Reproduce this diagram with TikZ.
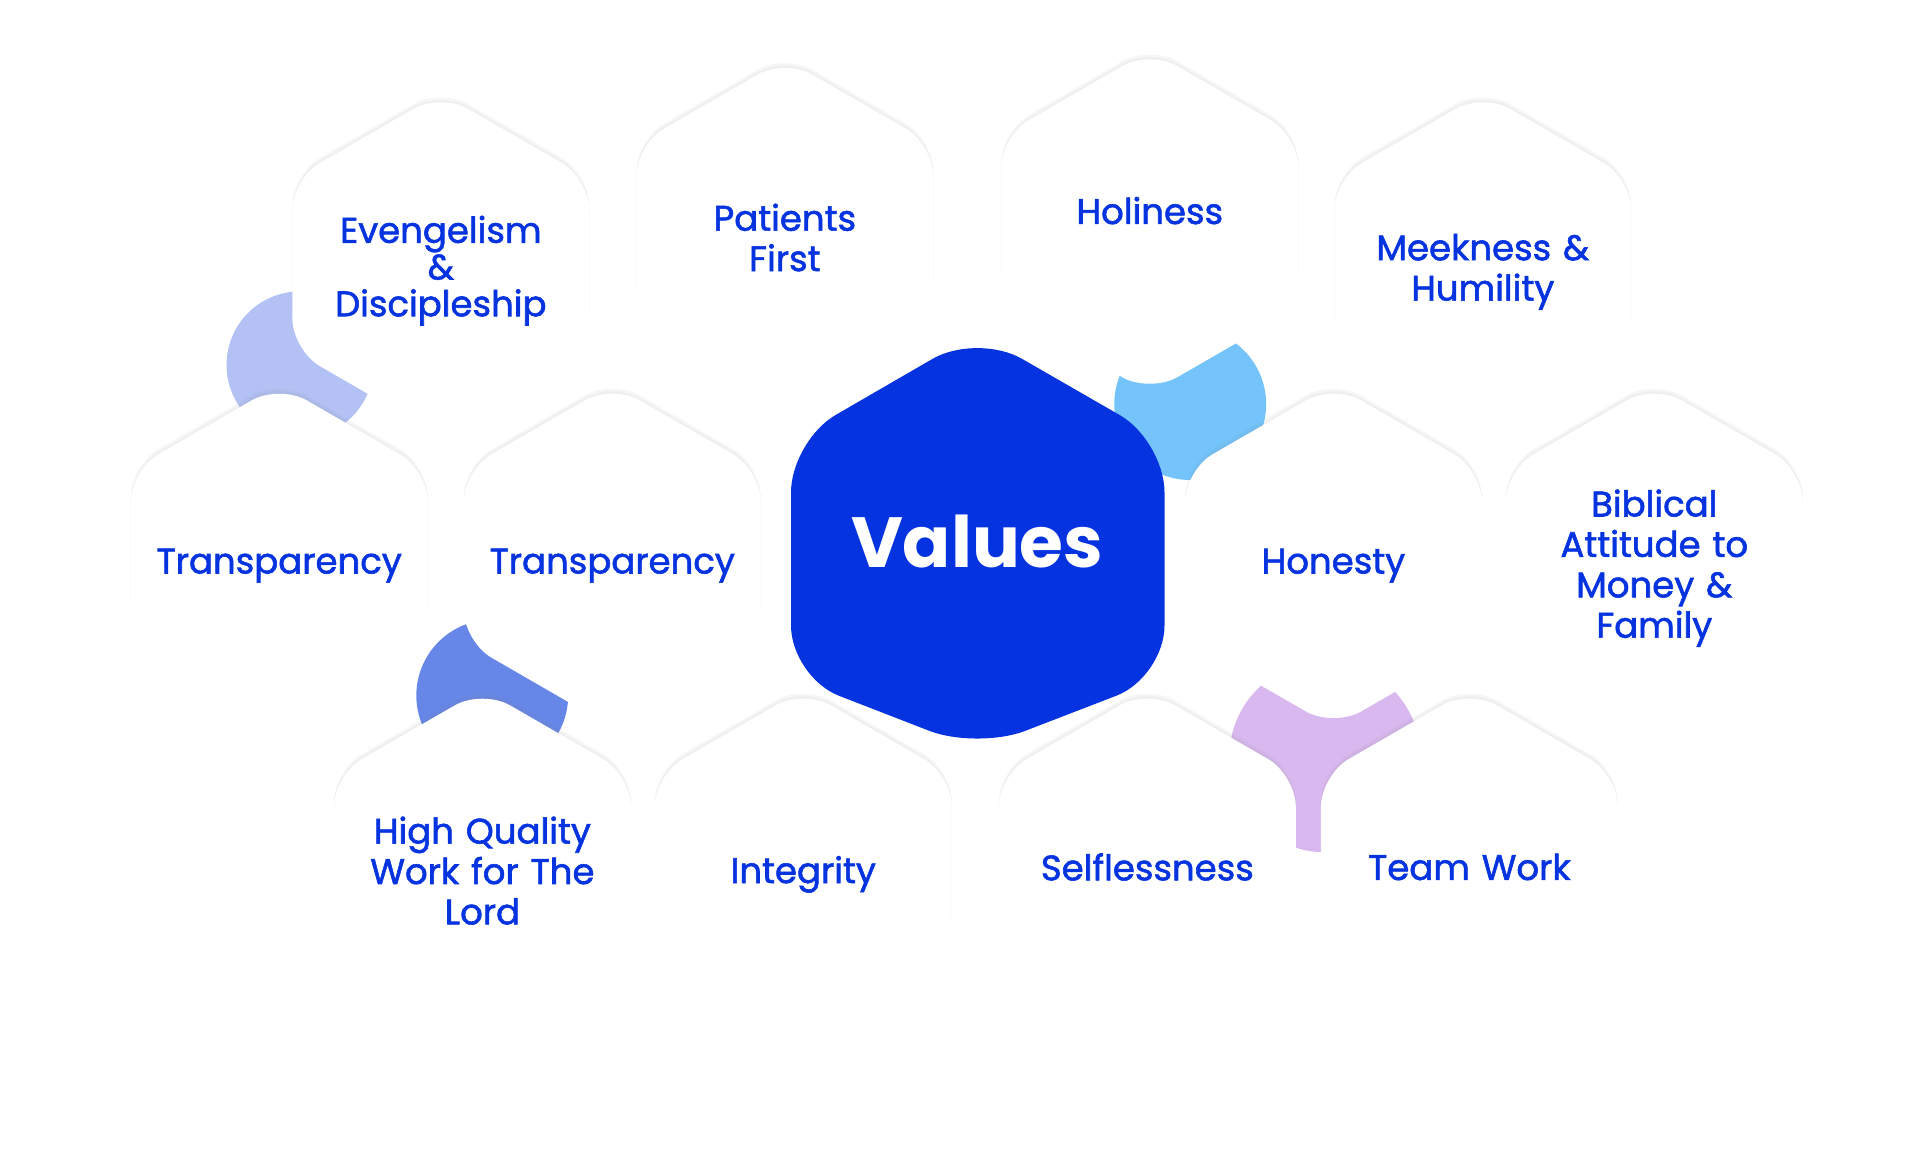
\documentclass[tikz,border=0pt]{standalone}
\usepackage{fontspec}
\setmainfont{Poppins}[BoldFont=Poppins,BoldFeatures={FakeBold=1.6}]
\newfontfamily\popbold{Poppins}
\usetikzlibrary{shapes.geometric,shadows}
\definecolor{vblue}{HTML}{0533E0}
\begin{document}
\begin{tikzpicture}[x=1pt,y=-1pt,
  hex/.style={regular polygon,regular polygon sides=6,shape border rotate=30,minimum size=280,inner sep=0,fill=white,rounded corners=26,drop shadow={opacity=0.07,shadow xshift=0,shadow yshift=-4},drop shadow={opacity=0.05,shadow xshift=0,shadow yshift=-2}},
  lbl/.style={align=center,text=vblue,font=\fontsize{29}{33}\selectfont\bfseries,text width=220}]
\useasboundingbox (0,0) rectangle (1568,960);
\fill[white] (0,0) rectangle (1568,960);
% decorative circles
\fill[color={rgb,255:red,179;green,193;blue,245}] (245,298) circle (60);
\fill[color={rgb,255:red,116;green,196;blue,251}] (972,330) circle (62);
\fill[color={rgb,255:red,103;green,135;blue,232}] (402,568) circle (62);
\fill[color={rgb,255:red,217;green,184;blue,239}] (1082,618) circle (78);
% central
\fill[vblue,rounded corners=42] (798,272) -- (951,360) -- (951,553) -- (798,612) -- (646,553) -- (646,360) -- cycle;
\node[text=white,font=\popbold\fontsize{58}{64}\selectfont\bfseries] (ct) at (798,442) {Values};
% hexes
\node[hex] (h1) at (360,216) {};
\node[hex] (h2) at (641,188) {};
\node[hex] (h3) at (939,181) {};
\node[hex] (h4) at (1211,216) {};
\node[hex] (h5) at (228,454) {};
\node[hex] (h6) at (500,454) {};
\node[hex] (h7) at (1089,454) {};
\node[hex] (h8) at (1351,454) {};
\node[hex] (h9) at (394,703) {};
\node[hex] (h10) at (656,703) {};
\node[hex] (h11) at (937,703) {};
\node[hex] (h12) at (1200,703) {};
\node[lbl] (t1) at (360,221) {Evengelism\\[-3pt]\&\\[-3pt]Discipleship};
\node[lbl] (t2) at (641,194) {Patients\\First};
\node[lbl] (t3) at (939,172) {Holiness};
\node[lbl] (t4) at (1211,222) {Meekness \&\\Humility};
\node[lbl] (t5) at (228,462) {Transparency};
\node[lbl] (t6) at (500,462) {Transparency};
\node[lbl] (t7) at (1089,462) {Honesty};
\node[lbl] (t8) at (1351,464) {Biblical\\Attitude to\\Money \&\\Family};
\node[lbl] (t9) at (394,711) {High Quality\\Work for The\\Lord};
\node[lbl] (t10) at (656,714) {Integrity};
\node[lbl] (t11) at (937,708) {Selflessness};
\node[lbl] (t12) at (1200,708) {Team Work};
\end{tikzpicture}
\end{document}
